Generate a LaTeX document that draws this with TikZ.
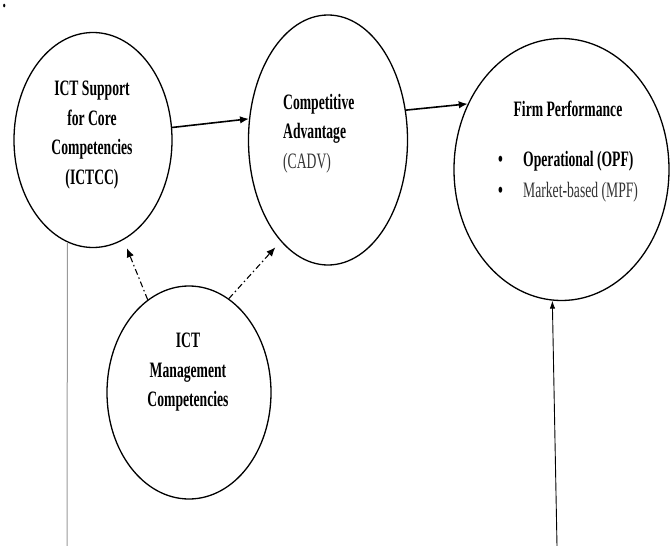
\documentclass[tikz,border=0pt]{standalone}
\usepackage{fontspec}
\setmainfont{Liberation Serif}[FakeStretch=0.62]
\usetikzlibrary{arrows.meta, shapes.geometric}
\usepackage{xcolor}
\definecolor{tg}{HTML}{333333}
\definecolor{lg}{HTML}{9A9A9A}

\begin{document}
\begin{tikzpicture}[x=1pt, y=-1pt, font=\fontsize{22}{29.5}\selectfont\bfseries,
    oval/.style={draw, ellipse, line width=1.3pt, inner sep=0pt},
    lbl/.style={inner sep=0pt, align=#1},
    lbl/.default=center,
    dd/.style={->, line width=1.1pt, dash pattern=on 6pt off 3pt on 1.5pt off 3pt},
    >={Latex[length=9pt, width=7.5pt]}]
  \useasboundingbox (0,0) rectangle (670,546);
  \node[lbl, anchor=base west] (dot) at (2.5,7) {.};

  \node[oval, minimum width=158pt, minimum height=215pt] (ictcc) at (93,140) {};
  \node[oval, minimum width=159pt, minimum height=250pt] (cadv) at (328,140) {};
  \node[oval, minimum width=215pt, minimum height=262pt] (fp) at (561.5,169.5) {};
  \node[oval, minimum width=164pt, minimum height=213pt] (mgmt) at (189,392.5) {};

  \node[lbl, anchor=north] (ictcct) at (92,81) {ICT Support\\for Core\\Competencies\\(ICTCC)};
  \node[lbl=left, anchor=north west] (cadvt) at (283,94) {Competitive\\Advantage\\{\mdseries\color{tg}(CADV)}};
  \node[lbl, anchor=north] (fpt) at (568,101) {Firm Performance};
  \node[lbl=left, anchor=north west] (fplist) at (498,151)
    {\makebox[25pt][l]{\textbullet}Operational (OPF)\\[1.5pt]
     \makebox[25pt][l]{\textbullet}{\mdseries\color{tg}Market-based (MPF)}};
  \node[lbl, anchor=north] (mgmtt) at (188,333) {ICT\\Management\\Competencies};

  \coordinate (leftend) at (67,546);
  \coordinate (fpin) at (557,546);

  \draw[->, line width=1.6pt] (ictcc.9) -- (cadv.165);
  \draw[->, line width=1.6pt] (cadv.21) -- (fp.145);
  \draw[dd, shorten >=9pt] (mgmt.114) -- (ictcc.-73);
  \draw[dd, shorten >=8pt] (mgmt.67) -- (cadv.-115);
  \draw[lg, line width=1pt] (ictcc.-104) -- (leftend);
  \draw[-{Latex[length=8pt, width=5.5pt]}, line width=0.9pt] (fpin) -- (fp.-94);
\end{tikzpicture}
\end{document}
